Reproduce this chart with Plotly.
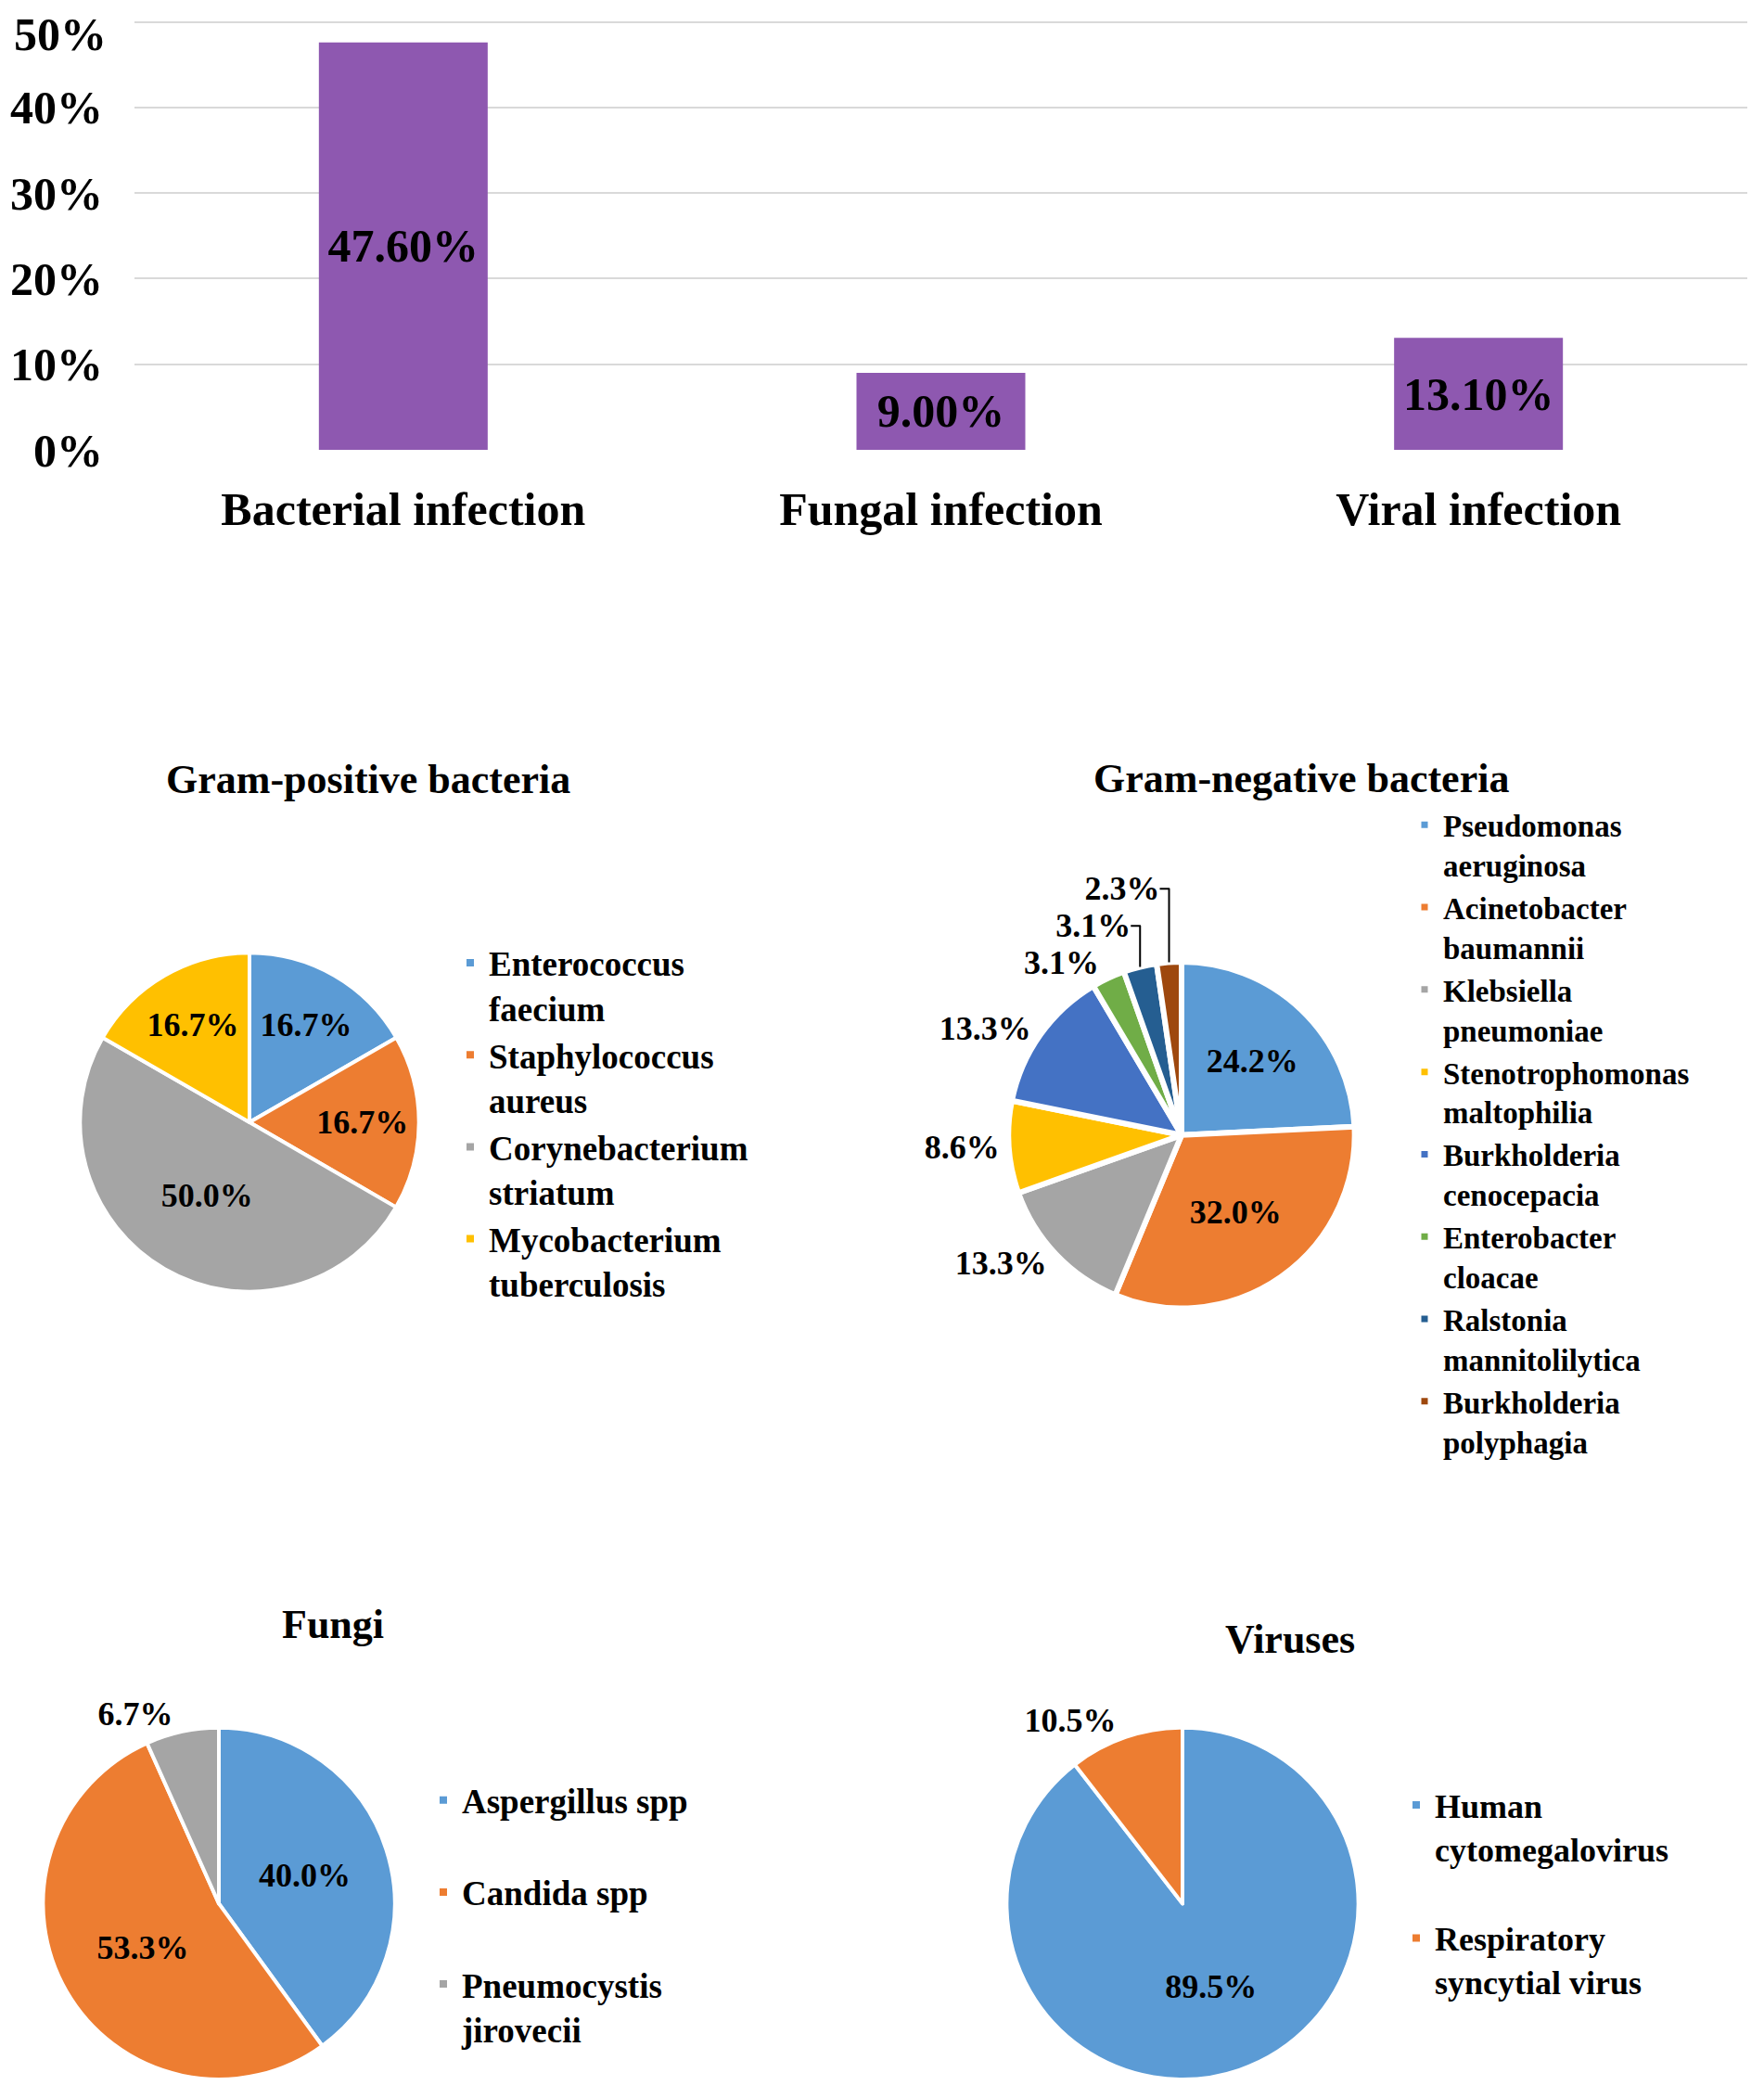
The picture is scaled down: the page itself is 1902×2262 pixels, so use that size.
import plotly.graph_objects as go

# ---------------- data ----------------
infection_types = ["Bacterial infection", "Fungal infection", "Viral infection"]
infection_rates = [0.476, 0.090, 0.131]
y_tick_vals = [0, 0.1, 0.2, 0.3, 0.4, 0.5]
y_tick_text = ["0%", "10%", "20%", "30%", "40%", "50%"]

gp_labels = ["Enterococcus<br>faecium", "Staphylococcus<br>aureus",
             "Corynebacterium<br>striatum", "Mycobacterium<br>tuberculosis"]
gp_values = [16.7, 16.7, 50.0, 16.7]

gn_labels = ["Pseudomonas<br>aeruginosa", "Acinetobacter<br>baumannii",
             "Klebsiella<br>pneumoniae", "Stenotrophomonas<br>maltophilia",
             "Burkholderia<br>cenocepacia", "Enterobacter<br>cloacae",
             "Ralstonia<br>mannitolilytica", "Burkholderia<br>polyphagia"]
gn_values = [24.2, 32.0, 13.3, 8.6, 13.3, 3.1, 3.1, 2.3]

fungi_labels = ["Aspergillus spp<br> ", "Candida spp<br> ", "Pneumocystis<br>jirovecii"]
fungi_values = [40.0, 53.3, 6.7]

virus_labels = ["Human<br>cytomegalovirus<br> ", "Respiratory<br>syncytial virus<br> "]
virus_values = [89.5, 10.5]

# ---------------- styles ----------------
FONT = "Liberation Serif, Times New Roman, serif"
BAR_COLOR = "#8E58B0"
PALETTE = ["#5B9BD5", "#ED7D31", "#A5A5A5", "#FFC000", "#4472C4",
           "#70AD47", "#255E91", "#9E480E"]
W, H = 1902, 2262
TICK_FONT = dict(family=FONT, size=50, color="black", weight="bold")


def px_x(x):
    return x / W


def px_y(y):
    return min(1.0, max(0.0, 1 - y / H))


fig = go.Figure()

fig.add_trace(go.Bar(
    x=infection_types, y=infection_rates,
    marker=dict(color=BAR_COLOR, line=dict(width=0)),
    texttemplate="%{y:.2%}", textposition="inside", insidetextanchor="middle",
    constraintext="none",
    textfont=dict(family=FONT, size=50, color="black", weight="bold"),
    showlegend=False, hoverinfo="skip",
))


def add_pie(labels, values, colors, dom_px, positions, legend, line_w=4):
    (x0, x1), (y0, y1) = dom_px
    fig.add_trace(go.Pie(
        labels=labels, values=values, sort=False, direction="clockwise",
        rotation=0,
        marker=dict(colors=colors, line=dict(color="white", width=line_w)),
        texttemplate="%{value:.1f}%", textposition=positions,
        insidetextorientation="horizontal",
        textfont=dict(family=FONT, size=36, color="black", weight="bold"),
        domain=dict(x=[px_x(x0), px_x(x1)], y=[px_y(y1), px_y(y0)]),
        legend=legend, hoverinfo="skip",
    ))


add_pie(gp_labels, gp_values, PALETTE[:4], ((76, 446), (1032, 1402)),
        ["inside"] * 4, "legend")
add_pie(gn_labels, gn_values, PALETTE[:8], ((1077, 1455), (1042, 1420)),
        ["inside", "inside"] + ["outside"] * 6, "legend2", line_w=6)
add_pie(fungi_labels, fungi_values, PALETTE[:3], ((36, 420), (1878, 2262)),
        ["inside", "inside", "outside"], "legend3")
add_pie(virus_labels, virus_values, PALETTE[:2], ((1075, 1459), (1878, 2262)),
        ["inside", "outside"], "legend4")


def leg(x, y, size):
    return dict(x=x, y=y, xanchor="left", yanchor="top", valign="top",
                bgcolor="rgba(0,0,0,0)", borderwidth=0,
                font=dict(family=FONT, size=size, color="black", weight="bold"))


titles = [("Gram-positive bacteria", 389, 843), ("Gram-negative bacteria", 1395, 842),
          ("Fungi", 351, 1765), ("Viruses", 1383, 1782)]
annotations = [dict(text=t, x=px_x(x), y=px_y(y), xref="paper", yref="paper",
                    xanchor="center", yanchor="middle", showarrow=False,
                    font=dict(family=FONT, size=44, color="black", weight="bold"))
               for t, x, y in titles]

# the top tick label would stick out above the page, so it is drawn as
# a text box hanging from the page top, at the tick-label column
axis_ticktext = y_tick_text[:-1] + [""]
annotations.append(dict(text=y_tick_text[-1], x=px_x(108), y=1, xref="paper",
                        yref="paper", xanchor="right", yanchor="top",
                        showarrow=False, borderpad=0, font=TICK_FONT))

fig.update_layout(
    width=W, height=H,
    margin=dict(l=0, r=0, t=0, b=0),
    paper_bgcolor="white", plot_bgcolor="white",
    font=dict(family=FONT, color="black"),
    bargap=0.686,
    uniformtext=dict(minsize=36, mode="show"),
    xaxis=dict(domain=[px_x(137), px_x(1876)], showgrid=False, showline=False,
               ticks="", ticklabelstandoff=30, tickfont=TICK_FONT),
    yaxis=dict(domain=[px_y(483), px_y(14)], range=[0, 0.502],
               tickvals=y_tick_vals, ticktext=axis_ticktext,
               showgrid=True, gridcolor="#D9D9D9", gridwidth=2,
               zeroline=False, showline=False, ticks="", ticklabelstandoff=33,
               tickfont=TICK_FONT),
    legend=leg(px_x(521 - 42), px_y(1012), 37),
    legend2=leg(px_x(1550 - 42), px_y(864), 33),
    legend3=leg(px_x(492 - 42), px_y(1926), 37),
    legend4=leg(px_x(1541 - 42), px_y(1932), 36),
    annotations=annotations,
)

fig.write_html("out.html")
